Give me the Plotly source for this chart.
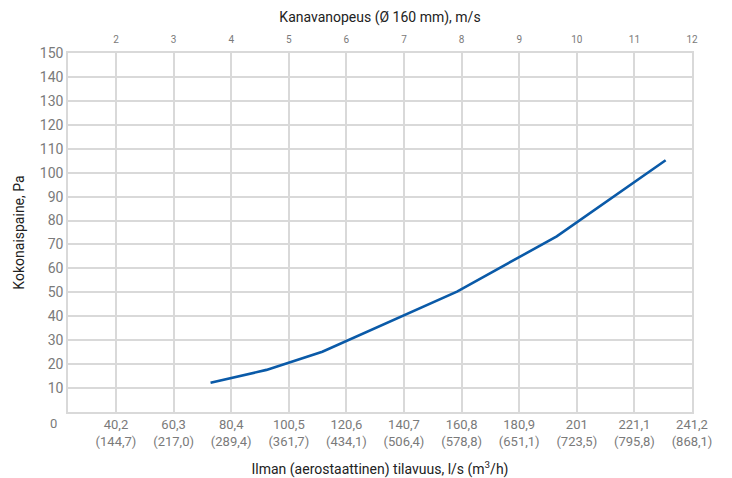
import plotly.graph_objects as go

# Data
flow_ls = [73.2, 92.7, 112.2, 159.2, 194.0, 232.0]          # l/s
pressure_pa = [12.2, 17.6, 25.2, 50.3, 73.4, 105.2]           # Pa

flow_ticks = [40.2, 60.3, 80.4, 100.5, 120.6, 140.7, 160.8, 180.9, 201, 221.1, 241.2]
flow_labels = ["40,2", "60,3", "80,4", "100,5", "120,6", "140,7", "160,8", "180,9", "201", "221,1", "241,2"]
flow_m3h_labels = ["(144,7)", "(217,0)", "(289,4)", "(361,7)", "(434,1)", "(506,4)",
                   "(578,8)", "(651,1)", "(723,5)", "(795,8)", "(868,1)"]
speed_ticks = [2, 3, 4, 5, 6, 7, 8, 9, 10, 11, 12]
y_ticks = list(range(10, 151, 10))

LS_PER_MS = 20.1
x_min_ms, x_max_ms = 1.167, 12.0

grid = "#d9d9d9"
tick_col = "#7a7a7a"
font_family = "Roboto, Open Sans, sans-serif"

fig = go.Figure()
fig.add_trace(go.Scatter(x=flow_ls, y=pressure_pa, mode="lines",
                         line=dict(color="#0a5aa8", width=2.6), showlegend=False,
                         hoverinfo="skip"))
fig.add_trace(go.Scatter(x=[x_min_ms, x_max_ms], y=[None, None], xaxis="x2", mode="lines",
                         showlegend=False, hoverinfo="skip"))

fig.update_layout(
    width=732, height=478,
    margin=dict(l=68, r=40, t=53, b=66),
    paper_bgcolor="white", plot_bgcolor="white",
    font=dict(family=font_family, color=tick_col),
    xaxis=dict(
        range=[x_min_ms * LS_PER_MS, x_max_ms * LS_PER_MS],
        tickvals=flow_ticks,
        ticktext=[f"{a}<br>{b}" for a, b in zip(flow_labels, flow_m3h_labels)],
        tickfont=dict(size=13, color=tick_col),
        showgrid=True, gridcolor=grid, gridwidth=1.5,
        showline=True, linecolor=grid, linewidth=1.5, mirror=True,
        zeroline=False, ticks="", ticklen=0, automargin=False,
        title=dict(text="Ilman (aerostaattinen) tilavuus, l/s (m<sup>3</sup>/h)",
                   font=dict(size=14, color="#222222"), standoff=16),
    ),
    xaxis2=dict(
        overlaying="x", side="top",
        range=[x_min_ms, x_max_ms],
        tickvals=speed_ticks,
        tickfont=dict(size=10, color=tick_col),
        showgrid=False, zeroline=False, ticks="", showline=False,
        ticklabelstandoff=7, automargin=False,
        title=dict(text="Kanavanopeus (Ø 160 mm), m/s",
                   font=dict(size=14, color="#222222"), standoff=8),
    ),
    yaxis=dict(
        range=[0, 150],
        tickvals=y_ticks,
        tickfont=dict(size=14, color=tick_col),
        showgrid=True, gridcolor=grid, gridwidth=1.5,
        showline=True, linecolor=grid, linewidth=1.5, mirror=True,
        zeroline=False, ticks="", ticklen=0, automargin=False,
        title=dict(text="Kokonaispaine, Pa", font=dict(size=14, color="#222222"), standoff=12),
    ),
)

fig.add_annotation(text="0", xref="paper", yref="paper", x=-0.015, y=0, yshift=-11,
                   xanchor="right", yanchor="middle", showarrow=False,
                   font=dict(size=13, color=tick_col))

fig.write_html("out.html", post_script="document.body.style.margin='0';",
               config={"displayModeBar": False})
